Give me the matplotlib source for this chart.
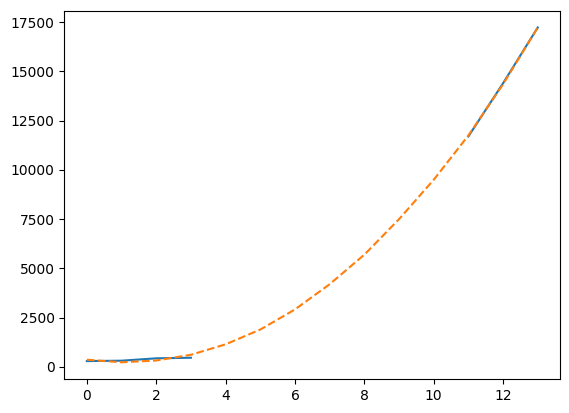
import numpy as np
import matplotlib
matplotlib.use("Agg")
from matplotlib import pyplot as plt

# observed values (gap in the middle)
x_obs = [0, 1, 2, 3, 4, 5, 6, 7, 8, 9, 10, 11, 12, 13]
y_obs = [300, 320, 440, 470, np.nan, np.nan, np.nan, np.nan, np.nan, np.nan, np.nan,
         11700, 14400, 17230]

# fitted curve
x_fit = [0, 1, 2, 3, 4, 5, 6, 7, 8, 9, 10, 11, 12, 13]
y_fit = [370, 240, 330, 620, 1150, 1900, 2920, 4200, 5700, 7500, 9500, 11750, 14350, 17230]

fig = plt.figure(figsize=(5.69, 4.13), dpi=100)
plt.plot(x_obs, y_obs)
plt.plot(x_fit, y_fit, '--')
plt.subplots_adjust(left=0.113, right=0.9847, top=0.974, bottom=0.0823)
plt.savefig("out.png")
